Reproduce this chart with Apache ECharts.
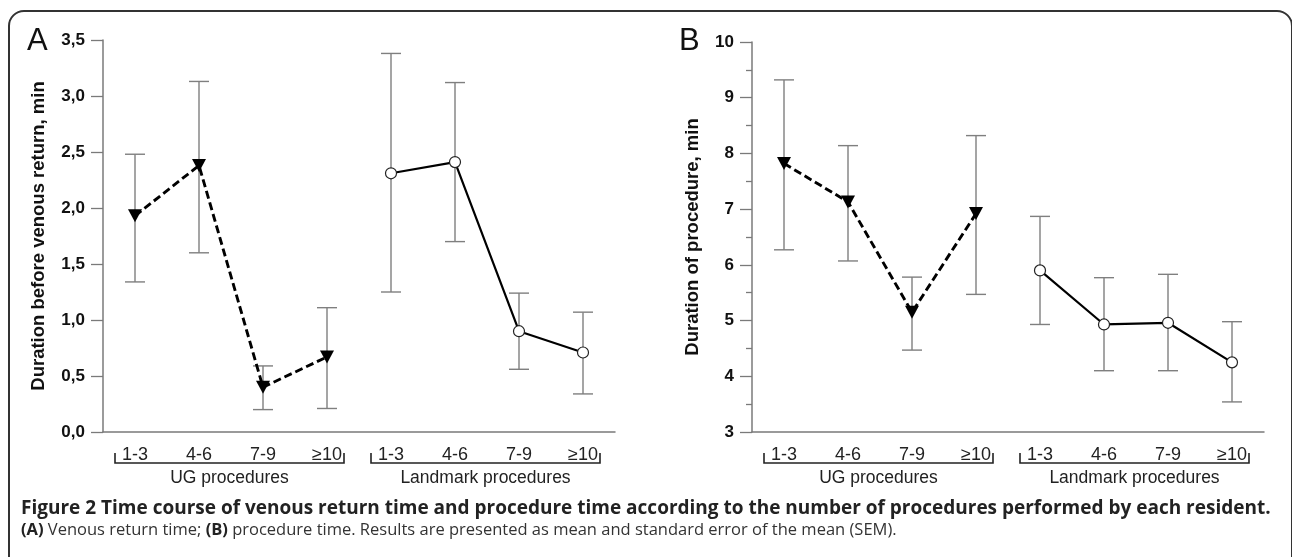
<!DOCTYPE html>
<html>
<head>
<meta charset="utf-8">
<script src="https://cdn.jsdelivr.net/npm/echarts@6/dist/echarts.min.js"></script>
<style>
html,body{margin:0;padding:0;background:#fff;}
#main{width:1292px;height:557px;}
</style>
</head>
<body>
<div id="main"></div>
<script>
// ---- data ----
const groupCats = ['1-3', '4-6', '7-9', '≥10'];
const groups = ['UG procedures', 'Landmark procedures'];
const yTicksA = [0, 3.5, 0.5];   // min, max, interval
const yTicksB = [3, 10, 1];

// Panel A: duration before venous return (min)
const A_ug_mean = [1.93, 2.38, 0.40, 0.67];
const A_ug_low  = [1.34, 1.60, 0.20, 0.21];
const A_ug_high = [2.48, 3.13, 0.59, 1.11];
const A_lm_mean = [2.31, 2.41, 0.90, 0.71];
const A_lm_low  = [1.25, 1.70, 0.56, 0.34];
const A_lm_high = [3.38, 3.12, 1.24, 1.07];

// Panel B: duration of procedure (min)
const B_ug_mean = [7.82, 7.13, 5.15, 6.92];
const B_ug_low  = [6.27, 6.07, 4.47, 5.47];
const B_ug_high = [9.32, 8.14, 5.78, 8.32];
const B_lm_mean = [5.90, 4.93, 4.96, 4.25];
const B_lm_low  = [4.93, 4.10, 4.10, 3.54];
const B_lm_high = [6.87, 5.77, 5.83, 4.98];

const captionTitle = 'Figure 2 Time course of venous return time and procedure time according to the number of procedures performed by each resident.';
const captionText = '{b|(A)} Venous return time; {b|(B)} procedure time. Results are presented as mean and standard error of the mean (SEM).';

// ---- build ----
const xCats = [];
groups.forEach(g => groupCats.forEach(c => xCats.push(g + '|' + c)));

function pairs(offset, arr) { return arr.map((v, i) => [offset + i, v]); }
function bars(offset, lo, hi) { return lo.map((v, i) => [offset + i, v, hi[i]]); }

const axisGray = '#7a7a7a';
const barGray = '#7f7f7f';

function errRender(params, api) {
  const x = api.value(0);
  const p1 = api.coord([x, api.value(1)]);
  const p2 = api.coord([x, api.value(2)]);
  const hw = 10;
  const st = { stroke: barGray, lineWidth: 1.4 };
  return {
    type: 'group',
    children: [
      { type: 'line', shape: { x1: p1[0], y1: p1[1], x2: p2[0], y2: p2[1] }, style: st },
      { type: 'line', shape: { x1: p1[0] - hw, y1: p1[1], x2: p1[0] + hw, y2: p1[1] }, style: st },
      { type: 'line', shape: { x1: p2[0] - hw, y1: p2[1], x2: p2[0] + hw, y2: p2[1] }, style: st }
    ]
  };
}

function xAxisDef(gi) {
  return {
    type: 'category', gridIndex: gi, data: xCats, boundaryGap: true,
    axisLine: { lineStyle: { color: axisGray, width: 1.5 } },
    axisTick: { alignWithLabel: true, length: 8, lineStyle: { color: axisGray, width: 1.3 } },
    axisLabel: { margin: 14, fontFamily: 'Liberation Sans, Arial', fontSize: 18, color: '#222',
      formatter: v => v.split('|')[1] },
    splitLine: { show: false }
  };
}
function yAxisDef(gi, t, name, gap, comma, minor) {
  return {
    type: 'value', gridIndex: gi, min: t[0], max: t[1], interval: t[2],
    name: name, nameLocation: 'middle', nameGap: gap, nameRotate: 90,
    nameTextStyle: { fontFamily: 'Liberation Sans, Arial', fontWeight: 'bold', fontSize: 18.5, color: '#111' },
    axisLine: { show: true, lineStyle: { color: axisGray, width: 1.5 } },
    axisTick: { show: true, length: 12, lineStyle: { color: axisGray, width: 1.3 } },
    minorTick: { show: minor, splitNumber: 2, length: 6, lineStyle: { color: axisGray, width: 1.3 } },
    axisLabel: { margin: 18, fontFamily: 'Liberation Sans, Arial', fontWeight: 'bold', fontSize: 17, color: '#111',
      formatter: v => comma ? v.toFixed(1).replace('.', ',') : String(v) },
    splitLine: { show: false }
  };
}

function lineSeries(gi, data, dashed) {
  return {
    type: 'line', xAxisIndex: gi, yAxisIndex: gi, data: data, z: 5,
    lineStyle: { color: '#000', width: dashed ? 2.9 : 2.2, type: dashed ? [8, 4] : 'solid' },
    symbol: dashed ? 'triangle' : 'circle',
    symbolSize: dashed ? [14, 13] : 11,
    symbolRotate: dashed ? 180 : 0,
    itemStyle: dashed ? { color: '#000', borderWidth: 0 } : { color: '#fff', borderColor: '#222', borderWidth: 1.2 },
    animation: false
  };
}
function errSeries(gi, data) {
  return { type: 'custom', xAxisIndex: gi, yAxisIndex: gi, data: data, renderItem: errRender, z: 2, animation: false,
    encode: { x: 0, y: [1, 2] } };
}

const chart = echarts.init(document.getElementById('main'));
chart.setOption({
  backgroundColor: '#fff',
  animation: false,
  grid: [
    { left: 103, top: 40, width: 512, height: 392, outerBoundsMode: 'none', containLabel: false },
    { left: 752, top: 42, width: 512, height: 390, outerBoundsMode: 'none', containLabel: false }
  ],
  xAxis: [xAxisDef(0), xAxisDef(1)],
  yAxis: [
    yAxisDef(0, yTicksA, 'Duration before venous return, min', 55, true, false),
    yAxisDef(1, yTicksB, 'Duration of procedure, min', 50, false, true)
  ],
  series: [
    errSeries(0, bars(0, A_ug_low, A_ug_high)),
    errSeries(0, bars(4, A_lm_low, A_lm_high)),
    lineSeries(0, pairs(0, A_ug_mean), true),
    lineSeries(0, pairs(4, A_lm_mean), false),
    errSeries(1, bars(0, B_ug_low, B_ug_high)),
    errSeries(1, bars(4, B_lm_low, B_lm_high)),
    lineSeries(1, pairs(0, B_ug_mean), true),
    lineSeries(1, pairs(4, B_lm_mean), false)
  ]
});

// decorations computed from axes
const g = [];
g.push({ type: 'rect', shape: { x: 9, y: 11, width: 1283, height: 620, r: [15, 15, 0, 0] },
  style: { fill: null, stroke: '#333', lineWidth: 2 }, silent: true, z: -1 });
[0, 1].forEach(gi => {
  groups.forEach((grp, k) => {
    const first = chart.convertToPixel({ xAxisIndex: gi }, xCats[k * 4]);
    const last = chart.convertToPixel({ xAxisIndex: gi }, xCats[k * 4 + 3]);
    const x1 = first - 20, x2 = last + 17;
    g.push({ type: 'polyline', shape: { points: [[x1, 453], [x1, 463], [x2, 463], [x2, 453]] },
      style: { stroke: '#222', lineWidth: 1.6, fill: null }, silent: true });
    g.push({ type: 'text', x: (x1 + x2) / 2, y: 478,
      style: { text: grp, fontFamily: 'Liberation Sans, Arial', fontSize: 17.5, fill: '#222', align: 'center', verticalAlign: 'middle' } });
  });
});
g.push({ type: 'text', x: 27, y: 41, style: { text: 'A', fontFamily: 'Liberation Sans, Arial', fontSize: 31, fill: '#111', verticalAlign: 'middle' } });
g.push({ type: 'text', x: 679, y: 41, style: { text: 'B', fontFamily: 'Liberation Sans, Arial', fontSize: 31, fill: '#111', verticalAlign: 'middle' } });
g.push({ type: 'text', x: 21, y: 509, style: { text: captionTitle, fontFamily: 'Open Sans', fontWeight: 'bold', fontSize: 19, fill: '#222', verticalAlign: 'middle' } });
g.push({ type: 'text', x: 21, y: 530, style: { text: captionText, fontFamily: 'Open Sans', fontSize: 16.5, fill: '#333', verticalAlign: 'middle',
  rich: { b: { fontFamily: 'Open Sans', fontWeight: 'bold', fontSize: 16.5, fill: '#222' } } } });
chart.setOption({ graphic: g });
</script>
</body>
</html>
